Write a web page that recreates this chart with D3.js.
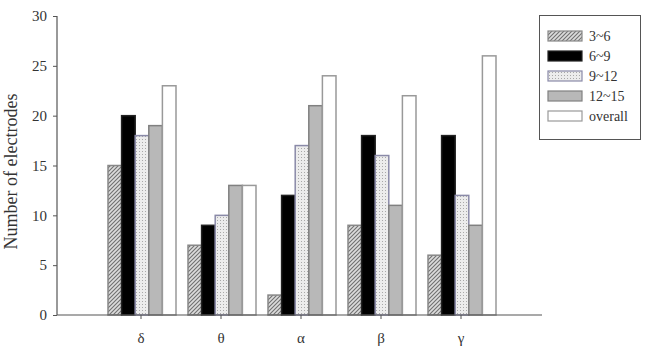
<!DOCTYPE html>
<html>
<head>
<meta charset="utf-8">
<script src="https://cdn.jsdelivr.net/npm/d3@7"></script>
<style>
  body { margin: 0; background: #fff; }
  text { font-family: "Liberation Serif", "DejaVu Serif", serif; fill: #333; }
</style>
</head>
<body>
<svg id="chart" width="651" height="361"></svg>
<script>
const bands = ['δ', 'θ', 'α', 'β', 'γ'];
const groups = ['3~6', '6~9', '9~12', '12~15', 'overall'];
const s36 = [15, 7, 2, 9, 6];
const s69 = [20, 9, 12, 18, 18];
const s912 = [18, 10, 17, 16, 12];
const s1215 = [19, 13, 21, 11, 9];
const sOverall = [23, 13, 24, 22, 26];
const yTicks = [0, 5, 10, 15, 20, 25, 30];

const seriesValues = [s36, s69, s912, s1215, sOverall];

const axisLeftX = 57;
const axisRightX = 542;
const plotTop = 16;
const plotBottom = 315;

const svg = d3.select('#chart');
const defs = svg.append('defs');

// hatch pattern for 3~6
const hatch = defs.append('pattern')
  .attr('id', 'hatch')
  .attr('patternUnits', 'userSpaceOnUse')
  .attr('width', 4)
  .attr('height', 4);
hatch.append('rect').attr('width', 4).attr('height', 4).attr('fill', '#dcdcdc');
hatch.append('path')
  .attr('d', 'M-1,1 l2,-2 M0,4 l4,-4 M3,5 l2,-2')
  .attr('stroke', '#707070')
  .attr('stroke-width', 1.1);

// dotted pattern for 9~12
const dots = defs.append('pattern')
  .attr('id', 'dots')
  .attr('patternUnits', 'userSpaceOnUse')
  .attr('width', 3)
  .attr('height', 3);
dots.append('rect').attr('width', 3).attr('height', 3).attr('fill', '#ececec');
dots.append('rect').attr('x', 1).attr('y', 1).attr('width', 1).attr('height', 1).attr('fill', '#a8a8a8');

const styles = [
  { fill: 'url(#hatch)', stroke: '#888' },
  { fill: '#000', stroke: '#222' },
  { fill: 'url(#dots)', stroke: '#8a8aa8' },
  { fill: '#b8b8b8', stroke: '#808080' },
  { fill: '#fff', stroke: '#999' },
];

const x = d3.scaleBand()
  .domain(bands)
  .range([101, 501])
  .paddingInner(0)
  .paddingOuter(0);

const xInner = d3.scaleBand()
  .domain(groups)
  .range([0, 68]);

const y = d3.scaleLinear()
  .domain([0, 30])
  .range([plotBottom, plotTop]);

// bars
groups.forEach((g, gi) => {
  svg.append('g')
    .selectAll('rect')
    .data(seriesValues[gi])
    .join('rect')
    .attr('x', (d, i) => x(bands[i]) + x.bandwidth() / 2 - 34 + 1 + xInner(g))
    .attr('y', (d) => y(d))
    .attr('width', xInner.bandwidth())
    .attr('height', (d) => y(0) - y(d))
    .attr('fill', styles[gi].fill)
    .attr('stroke', styles[gi].stroke)
    .attr('stroke-width', 1.5);
});

// y axis
const yAxis = d3.axisLeft(y)
  .tickValues(yTicks)
  .tickSize(4)
  .tickPadding(6);
const yg = svg.append('g')
  .attr('transform', `translate(${axisLeftX},0)`)
  .call(yAxis);
yg.select('.domain').attr('stroke', '#555').attr('stroke-width', 1.2).attr('d', `M0,${plotTop}V${plotBottom}`);
yg.selectAll('.tick line').attr('stroke', '#555');
yg.selectAll('.tick text')
  .style('font-family', '"Liberation Serif", serif')
  .style('font-size', '15px')
  .attr('fill', '#444');

// x axis
const xAxis = d3.axisBottom(x)
  .tickSize(4)
  .tickPadding(13);
const xg = svg.append('g')
  .attr('transform', `translate(0,${plotBottom})`)
  .call(xAxis);
xg.select('.domain').attr('stroke', '#555').attr('stroke-width', 1.2).attr('d', `M${axisLeftX},0H${axisRightX}`);
xg.selectAll('.tick line').attr('stroke', '#555');
xg.selectAll('.tick text')
  .style('font-family', '"Liberation Serif", serif')
  .style('font-size', '15px')
  .attr('fill', '#444');

// y label
svg.append('text')
  .attr('transform', `translate(17,${(plotTop + plotBottom) / 2 + 6}) rotate(-90)`)
  .attr('text-anchor', 'middle')
  .style('font-size', '18px')
  .attr('fill', '#444')
  .text('Number of electrodes');

// legend
const legend = svg.append('g');
legend.append('rect')
  .attr('x', 539.5)
  .attr('y', 15.5)
  .attr('width', 101)
  .attr('height', 124)
  .attr('fill', '#fff')
  .attr('stroke', '#555')
  .attr('stroke-width', 1);

const legendItems = legend.selectAll('g.item')
  .data(groups)
  .join('g')
  .attr('class', 'item')
  .attr('transform', (d, i) => `translate(548,${31 + i * 20})`);
legendItems.append('rect')
  .attr('width', 34)
  .attr('height', 10)
  .attr('fill', (d, i) => styles[i].fill)
  .attr('stroke', (d, i) => styles[i].stroke)
  .attr('stroke-width', 1.2);
legendItems.append('text')
  .attr('x', 41)
  .attr('y', 10)
  .style('font-size', '14px')
  .attr('fill', '#444')
  .text((d) => d);
</script>
</body>
</html>
